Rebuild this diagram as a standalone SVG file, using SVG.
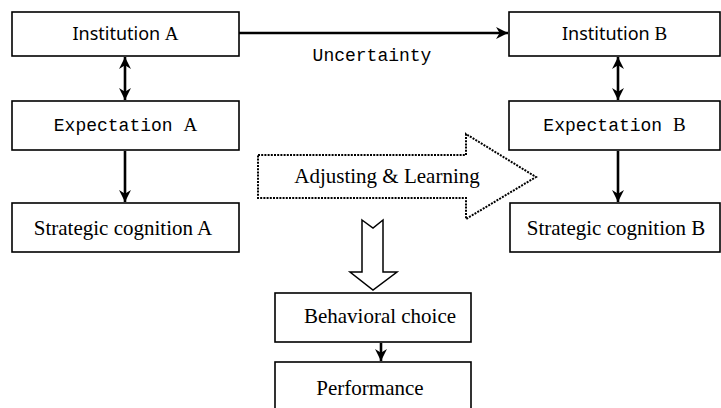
<svg xmlns="http://www.w3.org/2000/svg" width="721" height="408" viewBox="0 0 721 408">
<style>
.box{fill:#fff;stroke:#000;stroke-width:1.6}
.sans{font-family:"Noto Sans","Open Sans","DejaVu Sans",sans-serif;font-size:18px;fill:#000}
.mono{font-family:"Liberation Mono","DejaVu Sans Mono",monospace;font-size:18px;fill:#000}
.serif{font-family:"Liberation Serif","Times New Roman",serif;font-size:21px;fill:#000}
.conn{stroke:#000;stroke-width:2.6;fill:none}
</style>
<defs>
<marker id="ah" viewBox="0 0 10 10" refX="10" refY="5" markerWidth="4.6" markerHeight="4.6" orient="auto-start-reverse" markerUnits="strokeWidth">
<path d="M0,0 L10,5 L0,10 L3,5 Z" fill="#000"/>
</marker>
</defs>
<g id="inst-a"><rect class="box" x="12" y="12" width="227" height="44"/><text class="sans" x="125.5" y="40" text-anchor="middle">Institution <tspan class="serif" style="font-size:19px">A</tspan></text></g>
<g id="inst-b"><rect class="box" x="509" y="12" width="211" height="44"/><text class="sans" x="614.5" y="40" text-anchor="middle">Institution <tspan class="serif" style="font-size:19px">B</tspan></text></g>
<g id="exp-a"><rect class="box" x="12" y="101" width="227" height="49"/><text class="mono" x="125.5" y="131" text-anchor="middle">Expectation <tspan class="serif" style="font-size:19px">A</tspan></text></g>
<g id="exp-b"><rect class="box" x="509" y="101" width="211" height="49"/><text class="mono" x="614.5" y="131" text-anchor="middle">Expectation <tspan class="serif" style="font-size:19px">B</tspan></text></g>
<g id="strat-a"><rect class="box" x="12" y="203" width="227" height="49"/><text class="serif" x="123" y="235" text-anchor="middle">Strategic cognition A</text></g>
<g id="strat-b"><rect class="box" x="510" y="203" width="210" height="49"/><text class="serif" x="616" y="235" text-anchor="middle">Strategic cognition B</text></g>
<g id="behav"><rect class="box" x="275" y="293" width="196" height="49"/><text class="serif" x="380" y="323" text-anchor="middle">Behavioral choice</text></g>
<g id="perf"><rect class="box" x="275" y="362" width="196" height="60"/><text class="serif" x="370" y="395" text-anchor="middle">Performance</text></g>
<g id="adjust"><path d="M258,155 L466,155 L466,134 L536,177 L466,219 L466,198 L258,198 Z" fill="#fff" stroke="#000" stroke-width="2" stroke-dasharray="2 1.2"/><text class="serif" x="387" y="183" text-anchor="middle">Adjusting &amp; Learning</text></g>
<g id="connectors">
<line class="conn" x1="239" y1="33" x2="508" y2="33" marker-end="url(#ah)"/>
<text class="mono" x="372" y="61" text-anchor="middle">Uncertainty</text>
<line class="conn" x1="125" y1="57" x2="125" y2="100" marker-start="url(#ah)" marker-end="url(#ah)"/>
<line class="conn" x1="618" y1="57" x2="618" y2="100" marker-start="url(#ah)" marker-end="url(#ah)"/>
<line class="conn" x1="125" y1="151" x2="125" y2="202" marker-end="url(#ah)"/>
<line class="conn" x1="618" y1="151" x2="618" y2="202" marker-end="url(#ah)"/>
<line class="conn" x1="381" y1="343" x2="381" y2="361" marker-end="url(#ah)"/>
<path d="M362,220 L373,228 L383,220 L383,272 L397,272 L373,290 L350,272 L362,272 Z" fill="#fff" stroke="#000" stroke-width="1.5"/>
</g>
</svg>
